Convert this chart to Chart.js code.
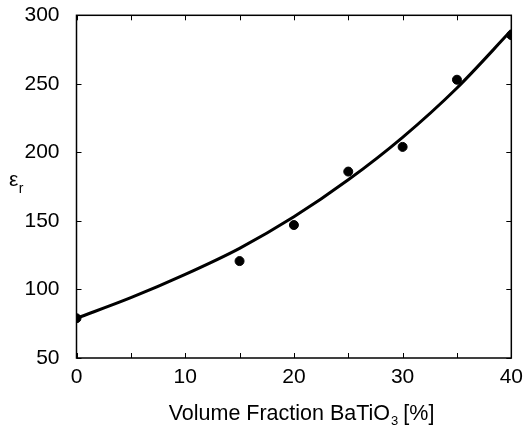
<!DOCTYPE html>
<html>
<head>
<meta charset="utf-8">
<script src="https://cdn.jsdelivr.net/npm/chart.js@4.4.0/dist/chart.umd.min.js"></script>
<style>
  html, body { margin: 0; padding: 0; background: #fff; }
  #wrap { width: 523px; height: 428px; position: relative; }
</style>
</head>
<body>
<div id="wrap"><canvas id="grafico"></canvas></div>
<script>
// dados medidos (pontos) e curva do modelo
const fracaoMedida = [0, 15, 20, 25, 30, 35, 40];
const epsMedida = [79, 120.7, 147, 186, 204, 253, 285.5];

const fracaoModelo = [0, 5, 10, 15, 20, 25, 30, 35, 40];
const epsModelo = [79, 94, 111, 130, 153, 180, 211, 247, 289];

const fonte = '"Liberation Sans", Arial, sans-serif';

// caixa + ticks para dentro, e rótulos com subscrito
const caixaPlugin = {
  id: 'caixa',
  afterDraw(chart) {
    const ctx = chart.ctx;
    const a = chart.chartArea;
    const sx = chart.scales.x;
    const sy = chart.scales.y;
    ctx.save();
    ctx.strokeStyle = '#000';
    ctx.lineWidth = 1.5;
    ctx.strokeRect(a.left, a.top, a.right - a.left, a.bottom - a.top);
    ctx.lineWidth = 1;
    ctx.beginPath();
    sx.ticks.forEach(t => {
      const px = Math.round(sx.getPixelForValue(t.value)) + 0.5;
      ctx.moveTo(px, a.bottom); ctx.lineTo(px, a.bottom - 5);
      ctx.moveTo(px, a.top); ctx.lineTo(px, a.top + 5);
    });
    sy.ticks.forEach(t => {
      const py = Math.round(sy.getPixelForValue(t.value)) + 0.5;
      ctx.moveTo(a.left, py); ctx.lineTo(a.left + 5, py);
      ctx.moveTo(a.right, py); ctx.lineTo(a.right - 5, py);
    });
    ctx.stroke();

    // rótulo eixo x
    ctx.fillStyle = '#000';
    ctx.textBaseline = 'alphabetic';
    ctx.textAlign = 'left';
    const p1 = 'Volume Fraction BaTiO', p2 = '3', p3 = ' [%]';
    ctx.font = '21.5px ' + fonte;
    const w1 = ctx.measureText(p1).width;
    const w3 = ctx.measureText(p3).width;
    ctx.font = '13px ' + fonte;
    const w2 = ctx.measureText(p2).width;
    const total = w1 + w2 + w3;
    let x0 = 301.5 - total / 2;
    const base = 420;
    ctx.font = '21.5px ' + fonte;
    ctx.fillText(p1, x0, base);
    ctx.font = '13px ' + fonte;
    ctx.fillText(p2, x0 + w1 + 1, base + 5);
    ctx.font = '21.5px ' + fonte;
    ctx.fillText(p3, x0 + w1 + w2, base);

    // rótulo eixo y
    ctx.font = '21px ' + fonte;
    ctx.fillText('ε', 9, 186);
    const we = ctx.measureText('ε').width;
    ctx.font = '14px ' + fonte;
    ctx.fillText('r', 9 + we + 0.5, 193);
    ctx.restore();
  }
};

new Chart(document.getElementById('grafico'), {
  type: 'scatter',
  data: {
    datasets: [
      {
        label: 'modelo',
        type: 'line',
        data: fracaoModelo.map((x, i) => ({ x: x, y: epsModelo[i] })),
        borderColor: '#000',
        borderWidth: 3,
        pointRadius: 0,
        fill: false,
        cubicInterpolationMode: 'monotone'
      },
      {
        label: 'medido',
        data: fracaoMedida.map((x, i) => ({ x: x, y: epsMedida[i] })),
        backgroundColor: '#000',
        borderColor: '#000',
        pointRadius: 4.5,
        pointHoverRadius: 4.5
      }
    ]
  },
  options: {
    responsive: true,
    maintainAspectRatio: false,
    animation: false,
    layout: { padding: { top: 15, right: 11, left: 0, bottom: 0 } },
    plugins: { legend: { display: false }, tooltip: { enabled: false } },
    scales: {
      x: {
        type: 'linear',
        min: 0, max: 40,
        ticks: {
          stepSize: 5,
          autoSkip: false,
          maxRotation: 0,
          padding: 0,
          color: '#000',
          font: { family: fonte, size: 21, lineHeight: 1.05 },
          callback: (v) => (v % 10 === 0 ? v : '')
        },
        grid: { display: false },
        border: { display: false },
        afterFit: (s) => { s.height = 70; }
      },
      y: {
        min: 50, max: 300,
        ticks: {
          stepSize: 50,
          padding: 9,
          color: '#000',
          font: { family: fonte, size: 21, lineHeight: 0.6 }
        },
        grid: { display: false },
        border: { display: false },
        afterFit: (s) => { s.width = 76.5; }
      }
    }
  },
  plugins: [caixaPlugin]
});
</script>
</body>
</html>
